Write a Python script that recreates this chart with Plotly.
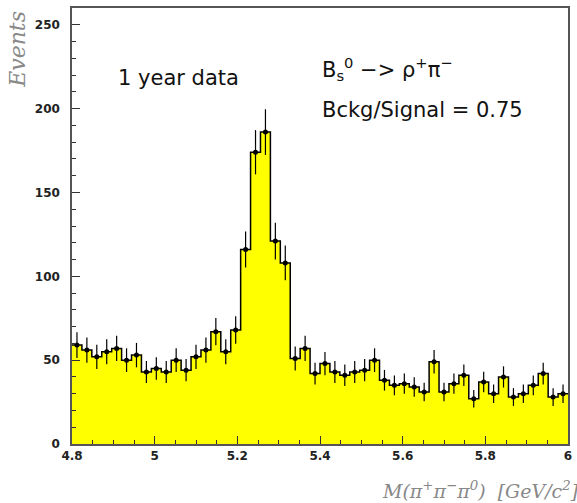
import numpy as np
import plotly.graph_objects as go

# Histogram of M(pi+ pi- pi0): 50 bins from 4.8 to 6.0 GeV/c^2
x_min, x_max, n_bins = 4.8, 6.0, 50
counts = [59, 56, 52, 55, 57, 50, 53, 43, 45, 43,
          50, 44, 52, 56, 67, 55, 68, 116, 174, 186,
          121, 108, 51, 57, 42, 48, 43, 41, 43, 44,
          50, 38, 35, 36, 34, 31, 49, 31, 36, 41,
          27, 37, 30, 40, 28, 30, 35, 42, 28, 30]
x_tick_vals = [4.8, 5.0, 5.2, 5.4, 5.6, 5.8, 6.0]
x_tick_text = ["4.8", "5", "5.2", "5.4", "5.6", "5.8", "6"]
y_tick_vals = [0, 50, 100, 150, 200, 250]

edges = np.linspace(x_min, x_max, n_bins + 1)
centers = 0.5 * (edges[:-1] + edges[1:])
vals = np.array(counts, dtype=float)
errs = np.sqrt(vals)

# step outline: each bin's height held across the bin
step_x = list(edges)
step_y = list(vals) + [vals[-1]]

fig = go.Figure()
fig.add_trace(go.Scatter(
    x=step_x, y=step_y, mode="lines", line_shape="hv",
    line=dict(color="black", width=1.5),
    fill="tozeroy", fillcolor="#ffff00", hoverinfo="skip",
))
fig.add_trace(go.Scatter(
    x=centers, y=vals, mode="markers",
    marker=dict(symbol="circle", size=5, color="black"),
    error_y=dict(type="data", array=errs, color="black", thickness=1.2, width=0),
))

tick_font = dict(family="DejaVu Sans", size=12, color="#222", weight="bold")
fig.update_xaxes(
    range=[x_min, x_max], tickmode="array", tickvals=x_tick_vals, ticktext=x_tick_text,
    ticks="inside", ticklen=8, tickwidth=1.2, tickcolor="#333",
    minor=dict(tick0=x_min, dtick=0.05, ticks="inside", ticklen=4, tickwidth=1, tickcolor="#333"),
    showline=True, linecolor="#555", linewidth=1.5, mirror=True,
    showgrid=False, zeroline=False, tickfont=tick_font,
)
fig.update_yaxes(
    range=[0, 260], tickmode="array", tickvals=y_tick_vals,
    ticks="inside", ticklen=8, tickwidth=1.2, tickcolor="#333",
    minor=dict(tick0=0, dtick=10, ticks="inside", ticklen=4, tickwidth=1, tickcolor="#333"),
    showline=True, linecolor="#555", linewidth=1.5, mirror=True,
    showgrid=False, zeroline=False, tickfont=tick_font, ticklabelstandoff=8,
)

label_font = dict(family="DejaVu Sans", size=21, color="#111")
title_font = dict(family="DejaVu Serif", size=19, color="#888")
fig.update_layout(
    width=577, height=503,
    margin=dict(l=72, r=5, t=8, b=59),
    paper_bgcolor="white", plot_bgcolor="white",
    showlegend=False,
    annotations=[
        dict(text="1 year data", x=0.088, y=0.84, xref="paper", yref="paper",
             xanchor="left", yanchor="middle", showarrow=False, font=label_font),
        dict(text="B<sub>s</sub><sup>0</sup> −> ρ<sup>+</sup>π<sup>−</sup>",
             x=0.5, y=0.86, xref="paper", yref="paper",
             xanchor="left", yanchor="middle", showarrow=False, font=label_font),
        dict(text="Bckg/Signal = 0.75", x=0.5, y=0.765, xref="paper", yref="paper",
             xanchor="left", yanchor="middle", showarrow=False, font=label_font),
        dict(text="<i>M(π<sup>+</sup>π<sup>−</sup>π<sup>0</sup>)  [GeV/c<sup>2</sup>]</i>",
             x=1.026, y=-0.105, xref="paper", yref="paper",
             xanchor="right", yanchor="middle", showarrow=False, font=title_font),
        dict(text="<i>Events</i>", x=-0.11, y=0.905, xref="paper", yref="paper",
             xanchor="center", yanchor="middle", textangle=-90, showarrow=False,
             font=dict(family="DejaVu Serif", size=22, color="#888")),
    ],
)

fig.write_html("out.html")
